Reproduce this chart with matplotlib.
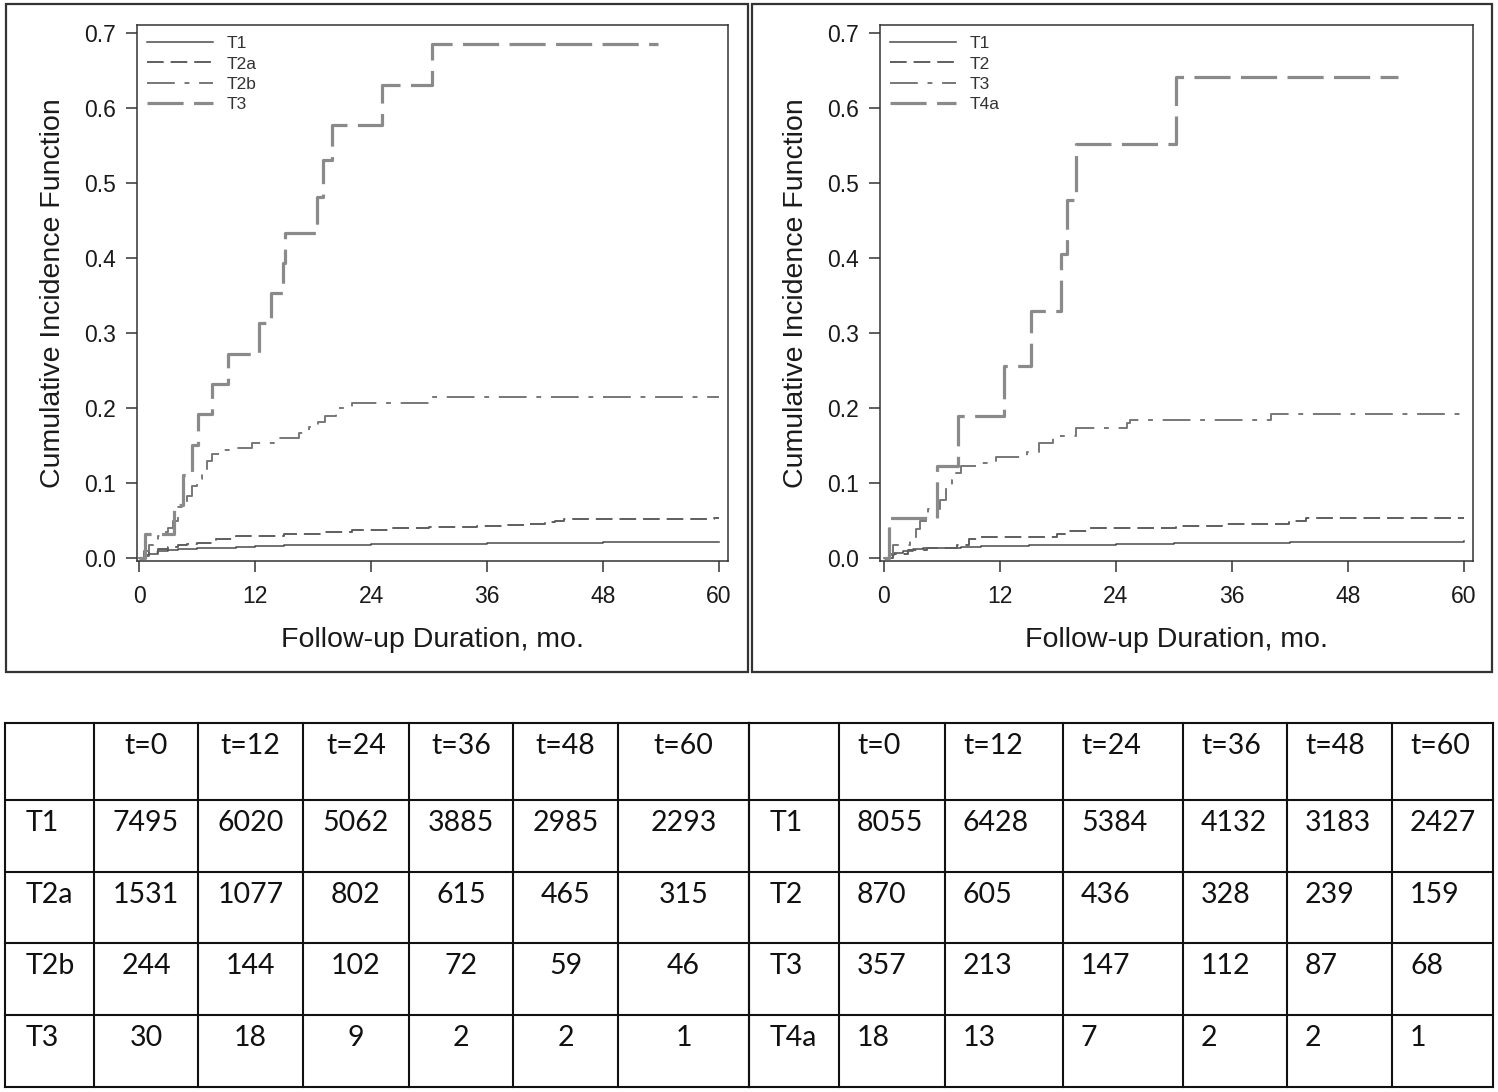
import matplotlib
matplotlib.use("Agg")
import matplotlib.pyplot as plt
from matplotlib.patches import Rectangle

plt.rcParams['lines.scale_dashes'] = False
plt.rcParams['font.family'] = ['Liberation Sans', 'DejaVu Sans']

# ---------------- data: left panel ----------------
left_labels = ["T1", "T2a", "T2b", "T3"]
L_T1_t = [0, 0.5, 1, 2, 3, 4, 6, 8, 10, 12, 15, 18, 24, 30, 36, 42, 48, 54, 60]
L_T1_v = [0, 0.003, 0.006, 0.009, 0.011, 0.012, 0.013, 0.014, 0.015, 0.016, 0.017, 0.018, 0.019, 0.019, 0.020, 0.020, 0.021, 0.021, 0.021]
L_T2a_t = [0, 0.5, 1, 2, 3, 4, 5, 6, 8, 10, 12, 15, 19, 22, 26, 30, 35, 38, 40, 42, 43, 44, 59.5, 60]
L_T2a_v = [0, 0.004, 0.008, 0.012, 0.015, 0.017, 0.019, 0.020, 0.025, 0.029, 0.030, 0.032, 0.035, 0.037, 0.040, 0.041, 0.043, 0.044, 0.045, 0.048, 0.050, 0.052, 0.054, 0.054]
L_T2b_t = [0, 0.5, 1, 1.5, 2, 2.5, 3, 3.5, 4, 4.5, 5, 5.5, 6, 6.5, 7, 7.5, 8.5, 10, 11.7, 14, 16.5, 17.6, 18.5, 19.2, 20.4, 22, 30.1, 60]
L_T2b_v = [0, 0.010, 0.018, 0.024, 0.030, 0.035, 0.040, 0.050, 0.068, 0.075, 0.083, 0.096, 0.105, 0.115, 0.130, 0.139, 0.144, 0.147, 0.153, 0.160, 0.167, 0.175, 0.182, 0.190, 0.200, 0.207, 0.215, 0.215]
L_T3_t = [0, 0.6, 3.6, 4.6, 5.5, 6.1, 7.6, 9.2, 12.4, 13.7, 14.9, 15.1, 18.4, 19.0, 20.0, 25.1, 30.3, 53.7]
L_T3_v = [0, 0.032, 0.071, 0.111, 0.151, 0.192, 0.232, 0.272, 0.313, 0.353, 0.394, 0.434, 0.481, 0.531, 0.577, 0.631, 0.686, 0.686]

# ---------------- data: right panel ----------------
right_labels = ["T1", "T2", "T3", "T4a"]
R_T1_t = [0, 0.5, 1, 2, 3, 4, 6, 8, 10, 12, 15, 18, 24, 30, 36, 42, 48, 54, 60]
R_T1_v = [0, 0.004, 0.007, 0.010, 0.012, 0.013, 0.014, 0.015, 0.016, 0.016, 0.017, 0.018, 0.019, 0.020, 0.020, 0.021, 0.022, 0.022, 0.023]
R_T2_t = [0, 0.9, 2.5, 4.4, 7.6, 8.8, 10.0, 17.9, 18.7, 21.1, 30.2, 35.0, 41.9, 43.7, 60]
R_T2_v = [0, 0.006, 0.011, 0.013, 0.018, 0.025, 0.028, 0.032, 0.036, 0.040, 0.043, 0.045, 0.049, 0.054, 0.054]
R_T3_t = [0, 0.5, 0.9, 2.7, 3.3, 3.7, 4.6, 5.8, 6.4, 7.0, 7.4, 8.0, 9.6, 11.6, 14.8, 16.0, 17.5, 19.9, 25.1, 25.5, 40.0, 60]
R_T3_v = [0, 0.006, 0.018, 0.028, 0.039, 0.049, 0.066, 0.077, 0.092, 0.104, 0.113, 0.123, 0.127, 0.135, 0.142, 0.154, 0.163, 0.173, 0.180, 0.184, 0.192, 0.192]
R_T4a_t = [0, 0.56, 5.44, 7.62, 12.4, 15.2, 18.3, 18.9, 19.9, 30.2, 53.2]
R_T4a_v = [0, 0.054, 0.123, 0.190, 0.256, 0.330, 0.405, 0.477, 0.552, 0.641, 0.641]

x_ticks = [0, 12, 24, 36, 48, 60]
y_ticks = [0.0, 0.1, 0.2, 0.3, 0.4, 0.5, 0.6, 0.7]
x_label = "Follow-up Duration, mo."
y_label = "Cumulative Incidence Function"

# ---------------- data: tables ----------------
table_header = ["", "t=0", "t=12", "t=24", "t=36", "t=48", "t=60"]
left_rows = ["T1", "T2a", "T2b", "T3"]
left_counts = [[7495, 6020, 5062, 3885, 2985, 2293],
               [1531, 1077, 802, 615, 465, 315],
               [244, 144, 102, 72, 59, 46],
               [30, 18, 9, 2, 2, 1]]
right_rows = ["T1", "T2", "T3", "T4a"]
right_counts = [[8055, 6428, 5384, 4132, 3183, 2427],
                [870, 605, 436, 328, 239, 159],
                [357, 213, 147, 112, 87, 68],
                [18, 13, 7, 2, 2, 1]]

# ---------------- styles ----------------
styles = [
    dict(color="#4a4a4a", lw=1.1, linestyle="-"),
    dict(color="#5e5e5e", lw=1.4, dashes=(12, 5)),
    dict(color="#777777", lw=1.4, dashes=(20, 7, 3.5, 7)),
    dict(color="#8a8a8a", lw=2.3, dashes=(26, 7.5)),
]

W, H = 1498, 1092
fig = plt.figure(figsize=(W / 100, H / 100), dpi=100)

def px_axes(x0, y0, x1, y1):
    return fig.add_axes([x0 / W, 1 - y1 / H, (x1 - x0) / W, (y1 - y0) / H])

def draw_panel(ax, series, labels, xlim_left):
    for (t, v), lab, st in zip(series, labels, styles):
        ax.plot(t, v, drawstyle="steps-post", label=lab, **st)
    ax.set_xlim(xlim_left, 60.93)
    ax.set_ylim(-0.004, 0.7107)
    ax.set_xticks(x_ticks)
    ax.set_xticklabels([str(x) for x in x_ticks])
    ax.set_yticks(y_ticks)
    ax.set_yticklabels(["%.1f" % y for y in y_ticks])
    for s in ax.spines.values():
        s.set_color("#333333")
        s.set_linewidth(1.1)
    ax.tick_params(axis="both", direction="out", length=8, width=1.1,
                   color="#333333", labelsize=16.5, labelcolor="#1a1a1a")
    ax.tick_params(axis="x", pad=9)
    ax.tick_params(axis="y", pad=7)
    ax.set_xlabel(x_label, fontsize=20.5, color="#1a1a1a", labelpad=14)
    ax.set_ylabel(y_label, fontsize=20.5, color="#1a1a1a", labelpad=13)
    leg = ax.legend(loc="upper left", bbox_to_anchor=(10 / 591, 1 - 11 / 536),
                    frameon=False, fontsize=12.5, handlelength=3.8,
                    handletextpad=0.8, labelspacing=0.3,
                    borderpad=0, borderaxespad=0)
    for txt in leg.get_texts():
        txt.set_color("#333333")

axL = px_axes(137, 25, 728, 561)
draw_panel(axL, [(L_T1_t, L_T1_v), (L_T2a_t, L_T2a_v), (L_T2b_t, L_T2b_v), (L_T3_t, L_T3_v)],
           left_labels, -0.21)
axR = px_axes(880, 25, 1473, 561)
draw_panel(axR, [(R_T1_t, R_T1_v), (R_T2_t, R_T2_v), (R_T3_t, R_T3_v), (R_T4a_t, R_T4a_v)],
           right_labels, -0.41)

# panel borders
ov = fig.add_axes([0, 0, 1, 1], zorder=-1)
ov.set_xlim(0, W)
ov.set_ylim(H, 0)
ov.axis("off")
ov.add_patch(Rectangle((6, 4), 742, 668, fill=False, lw=1.6, edgecolor="#333333"))
ov.add_patch(Rectangle((752, 4), 740, 668, fill=False, lw=1.6, edgecolor="#333333"))

# tables
tb = fig.add_axes([0, 0, 1, 1], zorder=2)
tb.set_xlim(0, W)
tb.set_ylim(H, 0)
tb.axis("off")
tb.patch.set_alpha(0)

row_edges = [723, 800, 872, 943, 1015, 1087]
left_cols = [5, 94, 198, 303, 409, 513, 618, 749]
right_cols = [749, 839, 945, 1063, 1183, 1287, 1392, 1493]
tfont = dict(family=["Lato", "DejaVu Sans"], fontsize=20.5, color="#111111")

def draw_table(cols, rows, counts, centered):
    for x in cols:
        tb.plot([x, x], [row_edges[0], row_edges[-1]], color="#111111", lw=1.5,
                solid_capstyle="projecting")
    for y in row_edges:
        tb.plot([cols[0], cols[-1]], [y, y], color="#111111", lw=1.5,
                solid_capstyle="projecting")
    cells = [table_header] + [[r] + [str(c) for c in cs] for r, cs in zip(rows, counts)]
    for i, line in enumerate(cells):
        yc = row_edges[i] + 23
        for j, txt in enumerate(line):
            if not txt:
                continue
            if j == 0:
                tb.text(cols[0] + 21, yc, txt, ha="left", va="center", **tfont)
            elif centered:
                tb.text((cols[j] + cols[j + 1]) / 2, yc, txt, ha="center", va="center", **tfont)
            else:
                tb.text(cols[j] + 18, yc, txt, ha="left", va="center", **tfont)

draw_table(left_cols, left_rows, left_counts, True)
draw_table(right_cols, right_rows, right_counts, False)

fig.savefig("out.png", dpi=100)
